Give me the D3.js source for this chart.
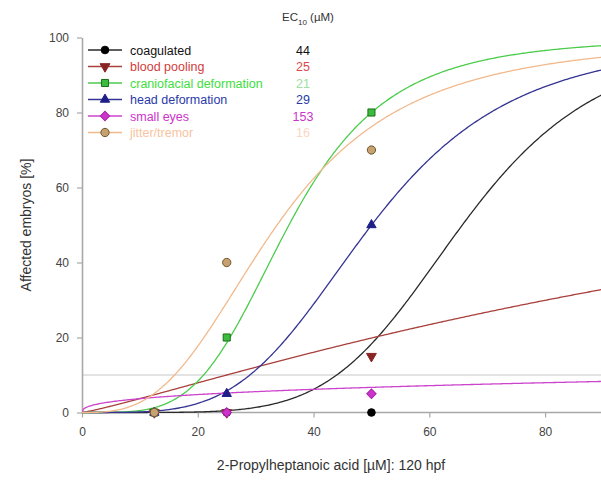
<!DOCTYPE html>
<html>
<head>
<meta charset="utf-8">
<script src="https://cdn.jsdelivr.net/npm/d3@7"></script>
<style>
  html, body { margin: 0; padding: 0; background: #fff; }
  svg { display: block; font-family: "Liberation Sans", Arial, sans-serif; }
</style>
</head>
<body>
<svg id="chart" width="601" height="480"></svg>
<script>
// Endpoints scored in the embryo assay
const endpoints = ["coagulated", "blood pooling", "craniofacial deformation", "head deformation", "small eyes", "jitter/tremor"];
// Tested concentrations (µM)
const concentrations = [12.5, 25, 50];
// Observed effect (%) per endpoint at each concentration
const coagulated = [0, 0, 0];
const bloodPooling = [0, 0, 15];
const craniofacial = [0, 20, 80];
const headDeformation = [0, 5, 50];
const smallEyes = [0, 0, 5];
const jitterTremor = [0, 40, 70];
const observed = [coagulated, bloodPooling, craniofacial, headDeformation, smallEyes, jitterTremor];
// Fitted EC10 values (µM) and Hill slopes of the dose-response curves
const ec10 = [44, 25, 21, 29, 153, 16];
const hillSlope = [5.48, 1.157, 4.13, 4.03, 0.39, 2.95];
// Axis ticks
const xTicks = [0, 20, 40, 60, 80];
const yTicks = [0, 20, 40, 60, 80, 100];
const thresholdLevel = 10;

const curveColor = ["#2a2a2a", "#a8403c", "#4ccc4c", "#343494", "#cc44cc", "#f2b98c"];
const textColor  = ["#111111", "#d23c3c", "#3ede3e", "#2a3aaa", "#cc33cc", "#f7c4a0"];
const ecColor    = ["#111111", "#d84a4a", "#9ee09e", "#2a3aaa", "#cc33cc", "#fad6c4"];
const markFill   = ["#000000", "#8a2424", "#3cbc3c", "#1e1e88", "#cc33cc", "#c9a070"];
const markStroke = ["#000000", "#8a2424", "#1c6c1c", "#1e1e88", "#aa22aa", "#6a5a2a"];
const markShape  = [d3.symbolCircle, d3.symbolTriangle, d3.symbolSquare, d3.symbolTriangle, d3.symbolSquare, d3.symbolCircle];
const markSize   = [46, 42, 50, 38, 44, 54];
const markRotate = [0, 180, 0, 0, 45, 0];

const svg = d3.select("#chart");
const x = d3.scaleLinear().domain([0, 90]).range([82, 603]);
const y = d3.scaleLinear().domain([0, 100]).range([412.5, 37.5]);

// Log-logistic dose-response: 10 % effect at ec10
function hill(conc, e10, h) {
  if (conc <= 0) return 0;
  const ec50 = e10 * Math.pow(9, 1 / h);
  return 100 / (1 + Math.pow(ec50 / conc, h));
}

// 10 % reference line
svg.append("line")
  .attr("x1", x(0)).attr("x2", 601)
  .attr("y1", y(thresholdLevel)).attr("y2", y(thresholdLevel))
  .attr("stroke", "#c8c8c8").attr("stroke-width", 1.2);

// Axes
const xAxis = svg.append("g").attr("transform", `translate(0,${y(0)})`)
  .call(d3.axisBottom(x).tickValues(xTicks).tickSize(5).tickPadding(10).tickSizeOuter(0));
const yAxis = svg.append("g").attr("transform", `translate(${x(0)},0)`)
  .call(d3.axisLeft(y).tickValues(yTicks).tickSize(5).tickPadding(8).tickSizeOuter(0));
[xAxis, yAxis].forEach(g => {
  g.select(".domain").attr("stroke", "#a8a8a8").attr("stroke-width", 1.6);
  g.selectAll(".tick line").attr("stroke", "#a8a8a8").attr("stroke-width", 1.2);
  g.selectAll(".tick text").attr("fill", "#444").attr("font-size", 12)
    .attr("font-family", "Liberation Sans, Arial, sans-serif");
});
xAxis.select(".domain").attr("d", `M${x(0)},0H601`);

// Axis titles
svg.append("text")
  .attr("x", 331).attr("y", 470)
  .attr("text-anchor", "middle").attr("font-size", 14).attr("fill", "#333")
  .text("2-Propylheptanoic acid [µM]: 120 hpf");
svg.append("text")
  .attr("transform", "translate(31,225) rotate(-90)")
  .attr("text-anchor", "middle").attr("font-size", 14).attr("fill", "#333")
  .text("Affected embryos [%]");

// Fitted curves
svg.append("clipPath").attr("id", "plotArea")
  .append("rect").attr("x", x(0)).attr("y", 0).attr("width", 601 - x(0)).attr("height", y(0) + 2);
const xs = d3.range(0, 90.25, 0.25);
const line = d3.line().x(d => x(d[0])).y(d => y(d[1]));
const curves = svg.append("g").attr("clip-path", "url(#plotArea)");
endpoints.forEach((name, i) => {
  curves.append("path")
    .datum(xs.map(c => [c, hill(c, ec10[i], hillSlope[i])]))
    .attr("d", line)
    .attr("fill", "none")
    .attr("stroke", curveColor[i])
    .attr("stroke-width", 1.3);
});

// Observed points
endpoints.forEach((name, i) => {
  const sym = d3.symbol().type(markShape[i]).size(markSize[i]);
  svg.append("g").selectAll("path")
    .data(concentrations.map((c, j) => [c, observed[i][j]]))
    .join("path")
    .attr("d", sym)
    .attr("transform", d => `translate(${x(d[0])},${y(d[1])}) rotate(${markRotate[i]})`)
    .attr("fill", markFill[i])
    .attr("stroke", markStroke[i])
    .attr("stroke-width", 1);
});

// Legend with EC10 column
const legendRows = [50, 66.5, 83, 99.5, 116, 132.5];
const legend = svg.append("g");
endpoints.forEach((name, i) => {
  const ly = legendRows[i];
  legend.append("line")
    .attr("x1", 88).attr("x2", 122).attr("y1", ly).attr("y2", ly)
    .attr("stroke", curveColor[i]).attr("stroke-width", 1.4);
  legend.append("path")
    .attr("d", d3.symbol().type(markShape[i]).size(markSize[i])())
    .attr("transform", `translate(105,${ly}) rotate(${markRotate[i]})`)
    .attr("fill", markFill[i]).attr("stroke", markStroke[i]).attr("stroke-width", 1);
  legend.append("text")
    .attr("x", 130).attr("y", ly + 4.5)
    .attr("font-size", 12.5).attr("fill", textColor[i])
    .text(name);
  legend.append("text")
    .attr("x", 303).attr("y", ly + 4.5)
    .attr("text-anchor", "middle")
    .attr("font-size", 12.5)
    .attr("fill", ecColor[i])
    .text(ec10[i]);
});
const header = svg.append("text")
  .attr("x", 282).attr("y", 21)
  .attr("font-size", 11.5).attr("fill", "#333");
header.append("tspan").text("EC");
header.append("tspan").attr("font-size", 8).attr("dy", 4).text("10");
header.append("tspan").attr("dy", -4).text(" (µM)");
</script>
</body>
</html>
